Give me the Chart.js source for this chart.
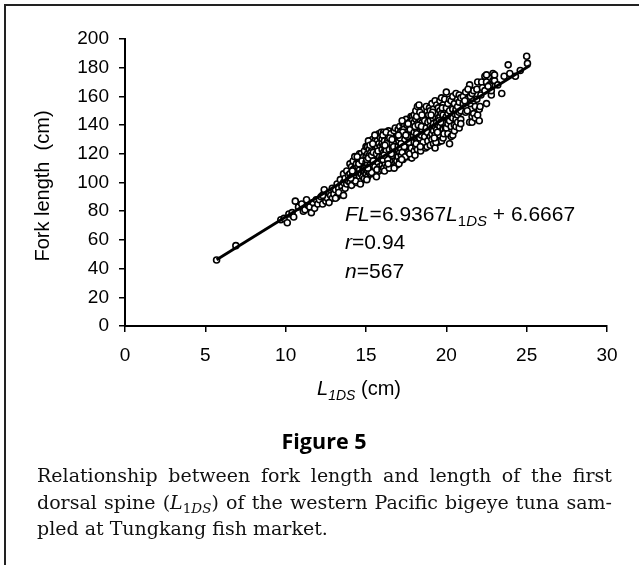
<!DOCTYPE html>
<html>
<head>
<meta charset="utf-8">
<script src="https://cdn.jsdelivr.net/npm/chart.js@4.4.1/dist/chart.umd.min.js"></script>
<style>
  html, body { margin: 0; padding: 0; background: #fff; }
  body { width: 639px; height: 565px; position: relative; overflow: hidden; }
  #frame { position: absolute; left: 4px; top: 4px; width: 700px; height: 600px;
           border-top: 2px solid #222; border-left: 2px solid #222; }
  #wrap { position: absolute; left: 0; top: 0; width: 639px; height: 420px; }
  #fig { position: absolute; left: 0; top: 430px; width: 648px; text-align: center;
         font: 700 21.5px 'Open Sans', sans-serif; line-height: 21px; color: #000; }
  #caption { position: absolute; left: 37px; top: 462px; width: 575px;
             font: 19px 'DejaVu Serif', serif; line-height: 26.7px; color: #111; }
  #caption .j { text-align: justify; text-align-last: justify; white-space: nowrap; }
  #caption sub { font-size: 13.5px; line-height: 0; vertical-align: -4px; }
</style>
</head>
<body>
<div id="wrap"><canvas id="chart" width="639" height="420"></canvas></div>
<div id="frame"></div>
<div id="fig">Figure 5</div>
<div id="caption">
  <div class="j">Relationship between fork length and length of the first</div>
  <div class="j">dorsal spine (<i>L</i><sub>1<i>DS</i></sub>) of the western Pacific bigeye tuna sam-</div>
  <div>pled at Tungkang fish market.</div>
</div>
<script>
// first dorsal spine length (cm), one row per 1 cm band
const spineLength = [
  5.7, 6.9, 9.7, 9.9,
  10.1, 10.2, 10.4, 10.5, 10.6, 10.8,
  11.0, 11.1, 11.2, 11.3, 11.4, 11.5, 11.6, 11.7, 11.8, 11.9,
  12.0, 12.1, 12.2, 12.3, 12.4, 12.5, 12.5, 12.6, 12.7, 12.8, 12.9, 12.9, 12.3, 12.7,
  13.0, 13.1, 13.2, 13.2, 13.3, 13.4, 13.4, 13.5, 13.5, 13.6, 13.6, 13.7, 13.7, 13.8, 13.8, 13.9, 13.9, 13.1, 13.3, 13.6,
  14.0, 14.0, 14.0, 14.1, 14.1, 14.1, 14.2, 14.2, 14.2, 14.2, 14.3, 14.3, 14.3, 14.4, 14.4, 14.4, 14.4,
  14.5, 14.5, 14.5, 14.5, 14.6, 14.6, 14.6, 14.6, 14.7, 14.7, 14.7, 14.7, 14.8, 14.8, 14.8, 14.8,
  14.9, 14.9, 14.9, 14.9, 14.9, 14.25, 14.35, 14.55, 14.65, 14.85, 14.45, 14.75, 14.15, 14.05,
  15.0, 15.0, 15.0, 15.0, 15.0, 15.1, 15.1, 15.1, 15.1, 15.1, 15.2, 15.2, 15.2, 15.2, 15.2,
  15.3, 15.3, 15.3, 15.3, 15.3, 15.4, 15.4, 15.4, 15.4, 15.4, 15.5, 15.5, 15.5, 15.5, 15.5,
  15.6, 15.6, 15.6, 15.6, 15.6, 15.7, 15.7, 15.7, 15.7, 15.7, 15.8, 15.8, 15.8, 15.8, 15.8,
  15.9, 15.9, 15.9, 15.9, 15.9,
  15.05, 15.05, 15.15, 15.15, 15.25, 15.25, 15.35, 15.35, 15.45, 15.45,
  15.55, 15.55, 15.65, 15.65, 15.75, 15.75, 15.85, 15.85, 15.95, 15.95, 15.12, 15.42, 15.68,
  16.0, 16.0, 16.0, 16.0, 16.0, 16.0, 16.1, 16.1, 16.1, 16.1, 16.1, 16.2, 16.2, 16.2, 16.2, 16.2,
  16.3, 16.3, 16.3, 16.3, 16.3, 16.4, 16.4, 16.4, 16.4, 16.4, 16.5, 16.5, 16.5, 16.5, 16.5,
  16.6, 16.6, 16.6, 16.6, 16.6, 16.7, 16.7, 16.7, 16.7, 16.7, 16.8, 16.8, 16.8, 16.8, 16.8,
  16.9, 16.9, 16.9, 16.9, 16.9,
  16.05, 16.05, 16.15, 16.15, 16.25, 16.25, 16.35, 16.35, 16.45, 16.45,
  16.55, 16.55, 16.65, 16.65, 16.75, 16.75, 16.85, 16.85, 16.95, 16.95,
  16.12, 16.28, 16.38, 16.48, 16.58, 16.72, 16.82, 16.92, 16.18, 16.62,
  17.0, 17.0, 17.0, 17.0, 17.0, 17.1, 17.1, 17.1, 17.1, 17.1, 17.2, 17.2, 17.2, 17.2, 17.2,
  17.3, 17.3, 17.3, 17.3, 17.3, 17.4, 17.4, 17.4, 17.4, 17.4, 17.5, 17.5, 17.5, 17.5, 17.5,
  17.6, 17.6, 17.6, 17.6, 17.6, 17.7, 17.7, 17.7, 17.7, 17.7, 17.8, 17.8, 17.8, 17.8, 17.8,
  17.9, 17.9, 17.9, 17.9, 17.9,
  17.05, 17.05, 17.15, 17.15, 17.25, 17.25, 17.35, 17.35, 17.45, 17.45,
  17.55, 17.55, 17.65, 17.65, 17.75, 17.75, 17.85, 17.85, 17.95, 17.95,
  17.12, 17.28, 17.42, 17.58, 17.72, 17.88, 17.18, 17.62, 17.38, 17.82, 17.48, 17.92, 17.22, 17.68, 17.02,
  18.0, 18.0, 18.0, 18.0, 18.0, 18.1, 18.1, 18.1, 18.1, 18.1, 18.2, 18.2, 18.2, 18.2, 18.2,
  18.3, 18.3, 18.3, 18.3, 18.3, 18.4, 18.4, 18.4, 18.4, 18.4, 18.5, 18.5, 18.5, 18.5, 18.5,
  18.6, 18.6, 18.6, 18.6, 18.6, 18.7, 18.7, 18.7, 18.7, 18.7, 18.8, 18.8, 18.8, 18.8, 18.8,
  18.9, 18.9, 18.9, 18.9, 18.9,
  18.05, 18.05, 18.15, 18.15, 18.25, 18.25, 18.35, 18.35, 18.45, 18.45,
  18.55, 18.55, 18.65, 18.65, 18.75, 18.75, 18.85, 18.85, 18.95, 18.95,
  18.12, 18.48, 18.82, 18.38,
  19.0, 19.0, 19.0, 19.0, 19.0, 19.1, 19.1, 19.1, 19.1, 19.1, 19.2, 19.2, 19.2, 19.2, 19.2,
  19.3, 19.3, 19.3, 19.3, 19.3, 19.4, 19.4, 19.4, 19.4, 19.4, 19.5, 19.5, 19.5, 19.5, 19.5,
  19.6, 19.6, 19.6, 19.6, 19.6, 19.7, 19.7, 19.7, 19.7, 19.7, 19.8, 19.8, 19.8, 19.8, 19.8,
  19.9, 19.9, 19.9, 19.9, 19.9,
  19.15, 19.35, 19.55, 19.75, 19.95, 19.25, 19.45, 19.65, 19.85, 19.05,
  20.0, 20.0, 20.0, 20.0, 20.1, 20.1, 20.1, 20.1, 20.2, 20.2, 20.2, 20.2, 20.3, 20.3, 20.3, 20.3,
  20.4, 20.4, 20.4, 20.4, 20.5, 20.5, 20.5, 20.5, 20.6, 20.6, 20.6, 20.6, 20.7, 20.7, 20.7, 20.7,
  20.8, 20.8, 20.8, 20.8, 20.9, 20.9, 20.9, 20.9,
  21.05, 21.05, 21.2, 21.2, 21.2, 21.3, 21.3, 21.45, 21.45, 21.5, 21.5, 21.6, 21.6, 21.6,
  21.7, 21.7, 21.7, 21.8, 21.8, 21.9, 21.9, 21.95, 21.95, 21.15, 21.35,
  22.05, 22.05, 22.1, 22.15, 22.2, 22.25, 22.4, 22.4, 22.5, 22.5, 22.5, 22.7, 22.8, 22.8, 22.9, 22.9, 22.6,
  23.0, 23.0, 23.2, 23.45, 23.6, 23.85, 23.95, 24.3, 24.6, 25.0, 25.05
];

// fork length (cm), same order as spineLength
const forkLength = [
  46, 56, 74, 75,
  72, 78, 79, 76, 87, 83,
  85, 80, 81, 88, 84, 83, 79, 86, 82, 88,
  85, 88, 90, 85, 95, 91, 87, 89, 93, 91, 89, 96, 91, 86,
  92, 95, 99, 90, 96, 92, 102, 97, 94, 100, 106, 103, 96, 99, 108, 101, 105, 89, 93, 91,
  113, 100, 106, 111, 104, 98, 106, 109, 102, 115, 103, 110, 118, 110, 105, 100, 113,
  107, 116, 102, 111, 116, 104, 109, 120, 120, 112, 106, 101, 112, 108, 117, 104,
  108, 114, 122, 103, 110, 107, 101, 113, 99, 118, 118, 115, 108, 103,
  125, 111, 106, 118, 114, 125, 108, 113, 120, 104, 119, 110, 116, 123, 107,
  106, 121, 113, 128, 110, 117, 112, 124, 108, 130, 118, 114, 109, 126, 121,
  130, 112, 116, 106, 123, 129, 119, 111, 115, 125, 134, 113, 120, 108, 127,
  125, 117, 131, 110, 122,
  116, 102, 117, 129, 112, 126, 107, 119, 115, 121,
  111, 133, 120, 104, 122, 114, 118, 111, 135, 116, 110, 127, 109,
  118, 123, 112, 130, 127, 109, 115, 121, 135, 110, 126, 124, 117, 131, 113, 120,
  132, 119, 126, 111, 123, 120, 128, 114, 136, 117, 125, 118, 130, 112, 122,
  111, 127, 121, 133, 116, 123, 131, 115, 128, 119, 126, 113, 134, 121, 117,
  112, 129, 124, 137, 118,
  116, 133, 129, 108, 122, 135, 116, 129, 123, 110,
  134, 127, 119, 124, 110, 136, 129, 123, 120, 132,
  119, 127, 113, 131, 120, 125, 138, 115, 126, 130,
  137, 125, 118, 130, 122, 139, 128, 115, 133, 121, 126, 131, 119, 136, 124,
  132, 141, 123, 116, 128, 140, 127, 133, 120, 125, 144, 130, 122, 136, 127,
  129, 138, 118, 133, 124, 135, 123, 142, 128, 131, 127, 139, 121, 134, 146,
  146, 130, 125, 137, 120,
  129, 113, 124, 135, 143, 121, 129, 137, 118, 135,
  126, 140, 134, 121, 126, 137, 130, 117, 133, 140,
  131, 135, 130, 132, 120, 143, 127, 141, 125, 124, 133, 128, 116, 128, 133,
  135, 128, 142, 122, 147, 131, 150, 138, 125, 144, 123, 153, 136, 141, 129,
  154, 133, 127, 146, 139, 150, 129, 136, 143, 122, 137, 131, 148, 126, 142,
  145, 134, 128, 139, 151, 147, 124, 135, 141, 130, 125, 138, 145, 132, 150,
  141, 129, 135, 147, 136,
  139, 119, 134, 146, 128, 140, 131, 149, 139, 133,
  145, 128, 132, 143, 138, 153, 129, 142, 133, 152,
  127, 147, 135, 125,
  143, 132, 150, 126, 139, 138, 155, 130, 146, 134, 127, 144, 151, 136, 141,
  157, 133, 146, 139, 124, 154, 137, 130, 148, 142, 145, 134, 152, 140, 128,
  139, 150, 133, 146, 157, 159, 136, 143, 129, 148, 131, 147, 140, 154, 137,
  144, 151, 135, 158, 141,
  149, 128, 143, 152, 138, 131, 135, 142, 134, 147,
  163, 146, 138, 152, 155, 141, 148, 134, 127, 150, 143, 158, 157, 139, 146, 132,
  133, 151, 145, 160, 148, 140, 155, 136, 162, 144, 151, 139, 153, 158, 142, 147,
  138, 156, 149, 161, 150, 144, 159, 141,
  160, 155, 153, 163, 149, 158, 150, 168, 142, 160, 155, 146, 142, 162,
  148, 157, 164, 145, 153, 165, 158, 170, 147, 157, 165,
  151, 143, 153, 161, 170, 166, 174, 164, 170, 155, 175, 168, 161, 164, 176, 171, 167,
  171, 175, 168, 162, 174, 182, 176, 174, 178, 188, 183
];

// ends of the fitted line FL = 6.9367 L1DS + 6.6667 as drawn
const fitLineX = [5.7, 25.2];
const fitLineY = [46.2, 181.5];

const equationText = ['6.9367', '6.6667'];
const statR = '0.94';
const statN = '567';

const sansFont = "'Liberation Sans', Arial, Helvetica, sans-serif";
Chart.defaults.font.family = sansFont;
Chart.defaults.color = '#000';

const samples = spineLength.map((x, i) => ({ x: x, y: forkLength[i] }));
const fitLine = fitLineX.map((x, i) => ({ x: x, y: fitLineY[i] }));

// draws a row of text pieces (italic / subscript) from left to right
const drawRuns = (ctx, x, y, runs) => {
  runs.forEach((r) => {
    ctx.font = (r.italic ? 'italic ' : '') + r.size + 'px ' + sansFont;
    ctx.fillText(r.text, x, y + (r.shift || 0));
    x += ctx.measureText(r.text).width;
  });
  return x;
};

const runsWidth = (ctx, runs) => {
  let w = 0;
  runs.forEach((r) => {
    ctx.font = (r.italic ? 'italic ' : '') + r.size + 'px ' + sansFont;
    w += ctx.measureText(r.text).width;
  });
  return w;
};

const textPlugin = {
  id: 'figureText',
  afterDraw(chart) {
    const ctx = chart.ctx;
    const xs = chart.scales.x;
    const ys = chart.scales.y;
    ctx.save();
    ctx.fillStyle = '#000';
    ctx.textBaseline = 'alphabetic';
    ctx.textAlign = 'left';

    // regression annotation
    const ax = xs.getPixelForValue(13.7);
    const ay = ys.getPixelForValue(73);
    drawRuns(ctx, ax, ay, [
      { text: 'FL', italic: true, size: 21 },
      { text: '=' + equationText[0], size: 21 },
      { text: 'L', italic: true, size: 21 },
      { text: '1', size: 15, shift: 5 },
      { text: 'DS', italic: true, size: 15, shift: 5 },
      { text: ' + ' + equationText[1], size: 21 },
    ]);
    drawRuns(ctx, ax, ay + 28, [
      { text: 'r', italic: true, size: 21 },
      { text: '=' + statR, size: 21 },
    ]);
    drawRuns(ctx, ax, ay + 57, [
      { text: 'n', italic: true, size: 21 },
      { text: '=' + statN, size: 21 },
    ]);

    // x axis title
    const xTitle = [
      { text: 'L', italic: true, size: 20 },
      { text: '1DS', italic: true, size: 14, shift: 5 },
      { text: ' (cm)', size: 20 },
    ];
    const cx = 359;
    drawRuns(ctx, cx - runsWidth(ctx, xTitle) / 2, 395, xTitle);

    // y axis title
    ctx.translate(43, 186);
    ctx.rotate(-Math.PI / 2);
    ctx.textAlign = 'center';
    ctx.textBaseline = 'middle';
    ctx.font = '20px ' + sansFont;
    ctx.fillText('Fork length  (cm)', 0, 0);
    ctx.restore();
  },
};

new Chart(document.getElementById('chart'), {
  type: 'scatter',
  data: {
    datasets: [
      {
        label: 'Fitted line',
        type: 'line',
        data: fitLine,
        showLine: true,
        borderColor: '#000',
        borderWidth: 2.8,
        pointRadius: 0,
        fill: false,
        order: 0,
      },
      {
        label: 'Samples',
        data: samples,
        pointStyle: 'circle',
        pointRadius: 3,
        pointBorderWidth: 1.6,
        borderColor: '#000',
        backgroundColor: '#fff',
        order: 1,
      },
    ],
  },
  options: {
    responsive: false,
    animation: false,
    layout: { padding: { top: 39, right: 32, left: 0, bottom: 0 } },
    plugins: {
      legend: { display: false },
      tooltip: { enabled: false },
    },
    scales: {
      x: {
        type: 'linear',
        min: 0,
        max: 30,
        ticks: { stepSize: 5, font: { size: 19 }, padding: 12, maxRotation: 0, color: '#000' },
        grid: { drawOnChartArea: false, drawTicks: true, tickLength: 6, color: '#000', lineWidth: 1.5 },
        border: { display: true, color: '#000', width: 2 },
        afterFit: (scale) => { scale.height = 94; },
      },
      y: {
        type: 'linear',
        min: 0,
        max: 200,
        ticks: { stepSize: 20, font: { size: 19 }, padding: 10, color: '#000' },
        grid: { drawOnChartArea: false, drawTicks: true, tickLength: 6, color: '#000', lineWidth: 1.5 },
        border: { display: true, color: '#000', width: 2 },
        afterFit: (scale) => { scale.width = 125; },
      },
    },
  },
  plugins: [textPlugin],
});
</script>
</body>
</html>
